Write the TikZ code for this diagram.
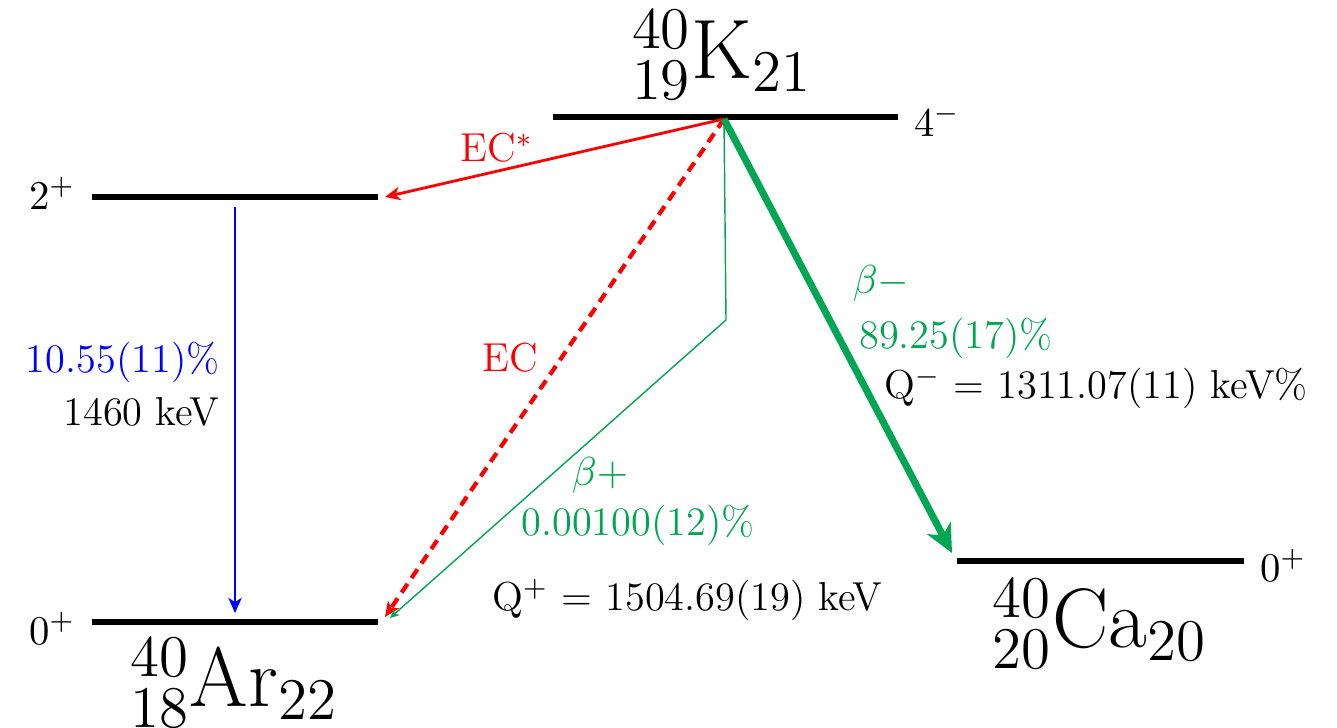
\RequirePackage{fix-cm}
\documentclass[tikz,border=0pt]{standalone}
\usepackage{fontspec}
\usetikzlibrary{positioning,arrows.meta}

\definecolor{decaygreen}{RGB}{0,166,81}

\tikzset{
  level/.style={line width=1.7pt},
  spin/.style={font=\fontsize{11.6}{14}\selectfont},
  lbl/.style={font=\fontsize{11.5}{14}\selectfont},
  nuclide/.style={font=\fontsize{24}{28}\selectfont, anchor=base},
  smalltip/.style={-{Stealth[length=4.3pt,width=3.8pt,inset=1.2pt]}},
  tinytip/.style={-{Stealth[length=2.6pt,width=2.4pt,inset=0.8pt]}},
  widetip/.style={-{Stealth[length=8pt,width=7.5pt,inset=2.4pt]}}
}

\begin{document}
\begin{tikzpicture}

\useasboundingbox (0,0) rectangle (13.37,7.28);

% levels
\coordinate (kL) at (5.53,6.11);  \coordinate (kR) at (8.98,6.11);   % K
\coordinate (exL) at (0.92,5.31); \coordinate (exR) at (3.78,5.31);  % Ar 2+
\coordinate (arL) at (0.92,1.06); \coordinate (arR) at (3.78,1.06);  % Ar 0+
\coordinate (caL) at (9.57,1.67); \coordinate (caR) at (12.44,1.67); % Ca

\draw[level] (kL) -- (kR);
\draw[level] (exL) -- (exR);
\draw[level] (arL) -- (arR);
\draw[level] (caL) -- (caR);

\node[nuclide] (K) at (7.22,6.49) {$^{40}_{19}$K$_{21}$};
\node[nuclide] (Ar) at (2.34,0.21) {$^{40}_{18}$Ar$_{22}$};
\node[nuclide] (Ca) at (11.0,0.80) {$^{40}_{20}$Ca$_{20}$};

\node[spin] (sK) at (9.37,6.08) {$4^-$};
\node[spin] (sEx) at (0.52,5.35) {$2^+$};
\node[spin] (sAr) at (0.52,1.00) {$0^+$};
\node[spin] (sCa) at (12.83,1.63) {$0^+$};

% transitions
\coordinate (src) at (7.24,6.09);
\coordinate (ecs) at (3.85,5.31);
\coordinate (ec) at (3.85,1.11);
\coordinate (bpk) at (7.26,4.08);
\coordinate (bp) at (3.90,1.10);
\coordinate (bm) at (9.52,1.75);
\coordinate (gtop) at (2.35,5.21);
\coordinate (gbot) at (2.35,1.15);

\draw[smalltip, red, thick] (src) -- (ecs);
\draw[smalltip, red, line width=1.2pt, dash pattern=on 3pt off 2pt] (src) -- (ec);
\draw[tinytip, decaygreen, thin] (src) -- (bpk) -- (bp);
\draw[widetip, decaygreen, line width=2pt] (src) -- (bm);
\draw[smalltip, blue, thick] (gtop) -- (gbot);

\node[lbl, red] (tECs) at (4.97,5.80) {EC$^*$};
\node[lbl, red] (tEC) at (5.10,3.70) {EC};

\node[lbl, decaygreen] (tBp) at (6.00,2.53) {$\beta+$};
\node[lbl, decaygreen] (tBpI) at (6.38,2.03) {0.00100(12)\%};
\node[lbl] (tQp) at (6.875,1.28) {Q$^+$ = 1504.69(19) keV};

\node[lbl, decaygreen] (tBm) at (8.81,4.45) {$\beta-$};
\node[lbl, decaygreen] (tBmI) at (9.56,3.90) {89.25(17)\%};
\node[lbl] (tQm) at (10.96,3.40) {Q$^-$ = 1311.07(11) keV\%};

\node[lbl, blue, anchor=east] (tG) at (2.32,3.66) {10.55(11)\%};
\node[lbl, anchor=east] (tGE) at (2.32,3.16) {1460 keV};

\end{tikzpicture}
\end{document}
